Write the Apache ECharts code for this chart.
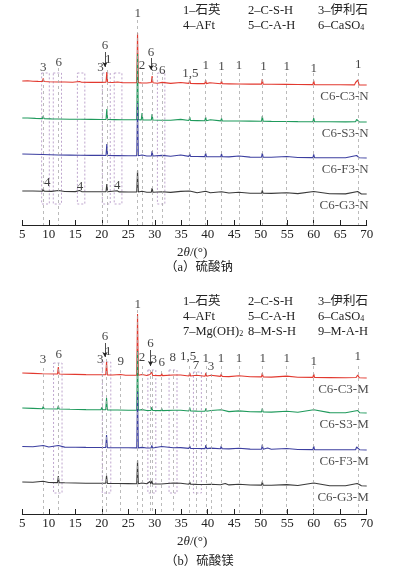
<!DOCTYPE html>
<html><head><meta charset="utf-8">
<script src="https://cdn.jsdelivr.net/npm/echarts@6/dist/echarts.min.js"></script>
<style>html,body{margin:0;padding:0;background:#fff}#c{width:396px;height:572px}</style>
</head><body><div id="c"></div>
<script>
// ---------- DATA (2θ in degrees, relative intensity) ----------
const xTicks = [5,10,15,20,25,30,35,40,45,50,55,60,65,70];
const namesA = ['C6-C3-N','C6-S3-N','C6-F3-N','C6-G3-N'];
const namesB = ['C6-C3-M','C6-S3-M','C6-F3-M','C6-G3-M'];

const c3n = [[5,4],[6,4.2],[7,3.8],[8,3.6],[8.8,3.5],[8.95,6.5],[9.1,3.5],[10,3.2],[11.7,3],[11.85,5],[12,3],[13,3],[14.5,2.8],[15.8,3.5],[16.2,2.8],[18,2.6],[19.9,2.6],[20.0,4],[20.15,2.7],[20.8,2.8],[20.95,13],[21.1,2.8],[22,2.5],[23,3],[24,2.3],[25.5,2.2],[26.6,2.3],[26.75,52],[26.9,2.2],[27.45,2.1],[27.6,4],[27.75,2],[28.5,2],[29.35,2.5],[29.5,9],[29.65,2.2],[30.5,1.8],[31.4,2.6],[31.6,1.8],[33,1.6],[34.9,2.5],[35.2,1.6],[36.45,1.6],[36.6,4.5],[36.75,1.5],[38,1.4],[39.45,1.4],[39.6,5],[39.75,1.4],[40.4,2.3],[40.6,1.3],[42.45,1.2],[42.6,4],[42.75,1.2],[44,1.1],[45.8,1],[45.9,2.5],[46.05,1],[48,0.9],[50.15,0.9],[50.3,6],[50.45,0.9],[52,0.7],[54.8,0.6],[54.9,2],[55.05,0.6],[57,0.5],[59.85,0.4],[60.0,4.5],[60.15,0.4],[63,0.3],[65,0.2],[67.7,0.1],[67.9,2.5],[68.1,0.5],[68.35,5],[68.55,0.1],[70,0]];
const s3n = [[5,4],[6,4],[7.5,3.6],[8.8,3.4],[8.95,6],[9.1,3.3],[10.5,3.1],[11.7,3],[11.85,4.5],[12,3],[14,2.8],[16,2.7],[18,2.6],[19.9,2.5],[20.0,3.5],[20.1,2.5],[20.8,2.5],[20.95,13],[21.1,2.5],[22.5,2.4],[24,2.3],[25.5,2.2],[26.6,2.2],[26.75,68],[26.9,2.2],[27.45,2.1],[27.6,9],[27.75,2.1],[28.5,2],[29.35,2],[29.5,8],[29.65,2],[31.3,1.8],[31.4,3],[31.5,1.8],[33,1.7],[34.9,2.6],[35.2,1.6],[36.45,1.5],[36.6,5],[36.75,1.5],[38,1.4],[39.45,1.3],[39.6,5],[39.75,1.3],[40.5,2.2],[40.7,1.2],[42.45,1.1],[42.6,3.5],[42.75,1.1],[44,1],[45.8,1],[45.9,2],[46.05,1],[48,0.9],[50.15,0.8],[50.3,6],[50.45,0.8],[52,0.6],[54.8,0.5],[54.9,1.5],[55.05,0.5],[57,0.4],[59.85,0.3],[60.0,4],[60.15,0.3],[63,0.2],[66,0.1],[67.9,0.2],[68.1,2.5],[68.25,1],[68.4,3],[68.6,0.1],[70,0]];
const f3n = [[5,4],[7,3.8],[8.8,3.5],[8.95,5],[9.1,3.4],[11.7,3],[11.85,4],[12,3],[14,2.9],[16,2.8],[18,2.6],[19.9,2.6],[20.0,3.5],[20.1,2.5],[20.8,2.5],[20.95,14],[21.1,2.5],[23,2.4],[25,2.2],[26.6,2.2],[26.75,55],[26.9,2.2],[27.6,3],[28.5,2],[29.35,2],[29.5,7],[29.65,2],[31.4,2.6],[33,1.8],[34.9,3],[35.2,1.7],[36.45,1.6],[36.6,4],[36.75,1.6],[38,1.5],[39.45,1.4],[39.6,5],[39.75,1.4],[40.5,1.3],[42.45,1.2],[42.6,4],[42.75,1.2],[44,1.1],[45.9,2],[48,0.9],[50.15,0.8],[50.3,5],[50.45,0.8],[52,0.7],[54.9,1.5],[57,0.5],[59.85,0.4],[60.0,3.5],[60.15,0.4],[63,0.3],[66,0.2],[68.1,2.5],[68.25,1.2],[68.4,3.5],[68.6,0.2],[70,0]];
const g3n = [[5,3],[7,3],[8.8,2.8],[8.95,5],[9.1,2.8],[10.5,2.6],[11.85,3.5],[13,2.5],[15,2.4],[15.8,3.5],[16.2,2.4],[18,2.3],[19.9,2.2],[20.0,3.5],[20.1,2.2],[20.8,2.2],[20.95,10],[21.1,2.2],[22.9,3.2],[23.3,2.1],[25,2],[26.6,2],[26.75,24],[26.9,2],[27.6,2.8],[28.5,1.8],[29.35,1.8],[29.5,6],[29.65,1.8],[31.4,2.2],[33,1.6],[34.9,2.6],[35.2,1.5],[36.6,3],[38,1.3],[39.6,2.8],[40.5,1.2],[42.6,2.3],[44,1],[45.9,1.8],[48,0.8],[50.15,0.7],[50.3,3.5],[50.45,0.7],[52,0.6],[54.9,1.3],[57,0.4],[60.0,2.5],[63,0.2],[66,0.1],[68.3,2.5],[68.6,1.5],[69,0],[70,0]];

const c3m = [[5,5],[7,4.6],[8.8,4.3],[8.95,6],[9.1,4.2],[11.65,4],[11.8,11],[11.95,4],[13,3.8],[15,3.6],[17,3.4],[19.85,3.2],[20.0,5],[20.15,3.2],[20.75,3.2],[20.9,16],[21.05,3.1],[22,3],[23.55,3.5],[24.5,2.8],[26.6,2.7],[26.75,64],[26.9,2.7],[27.6,3.5],[28.5,2.5],[29.1,3.5],[29.25,2.6],[29.45,6],[29.6,2.5],[31.2,2.4],[31.3,4.5],[31.45,2.4],[33.5,3],[34.9,3],[35.2,2.1],[36.45,2],[36.6,5],[36.75,2],[37.9,2.8],[39.5,1.8],[39.65,5],[39.8,1.8],[40.6,2.8],[42.4,1.6],[42.55,4],[42.7,1.6],[44,1.4],[45.9,2.3],[48,1.2],[50.15,1.1],[50.3,5],[50.45,1.1],[52,0.9],[54.9,1.9],[57,0.7],[59.85,0.6],[60.0,4],[60.15,0.6],[63,0.4],[66,0.2],[68.0,0.5],[68.3,3],[68.6,0.2],[70,0]];
const s3m = [[5,5],[7,4.6],[8.8,4.3],[8.95,6.5],[9.1,4.2],[11.65,4],[11.8,7],[11.95,4],[14,3.7],[17,3.4],[19.85,3.2],[20.0,5.5],[20.15,3.2],[20.75,3.2],[20.9,15],[21.05,3.1],[23,3],[25,2.8],[26.6,2.7],[26.75,62],[26.9,2.7],[27.6,3.4],[28.5,2.5],[29.3,2.5],[29.45,6],[29.6,2.5],[31.2,2.4],[31.3,4.5],[31.45,2.4],[33.5,2.8],[34.9,2.8],[35.2,2.1],[36.45,2],[36.6,5.5],[36.75,2],[38,1.9],[39.5,1.8],[39.65,4.5],[39.8,1.8],[40.6,2.5],[42.55,3.3],[44,1.4],[45.9,2.1],[48,1.2],[50.15,1.1],[50.3,4.5],[50.45,1.1],[52,0.9],[54.9,1.7],[57,0.7],[60.0,3.2],[63,0.4],[66,0.2],[68.3,2.5],[68.7,0.2],[70,0]];
const f3m = [[5,3.5],[7,3.3],[8.95,4.5],[10,3],[11.8,4.5],[13,2.9],[15,2.8],[17,2.6],[19.85,2.5],[20.0,4.5],[20.15,2.5],[20.75,2.5],[20.9,15],[21.05,2.4],[23,2.3],[25,2.2],[26.6,2.1],[26.75,58],[26.9,2.1],[27.6,2.6],[28.5,2],[29.3,2],[29.45,4.5],[29.6,2],[31.3,3.5],[33.5,2.2],[34.9,2.4],[35.2,1.7],[36.45,1.6],[36.6,4],[36.75,1.6],[38,1.5],[39.5,1.4],[39.65,5],[39.8,1.4],[40.6,1.9],[42.4,1.2],[42.55,4],[42.7,1.2],[44,1.1],[45.9,1.8],[48,0.9],[50.15,0.8],[50.3,5.5],[50.45,0.8],[51.3,2],[52,0.7],[54.9,1.5],[57,0.5],[59.85,0.4],[60.0,4],[60.15,0.4],[63,0.3],[66,0.2],[67.9,0.3],[68.1,3],[68.3,1.5],[68.45,3.5],[68.7,0.2],[70,0]];
const g3m = [[5,4],[7,3.8],[8.95,4.8],[10,3.5],[11.65,3.4],[11.8,10],[11.95,3.4],[13,3.2],[15,3],[17,2.8],[19.85,2.7],[20.0,4.5],[20.15,2.7],[20.75,2.7],[20.9,10.5],[21.05,2.6],[23,2.5],[25,2.4],[26.6,2.3],[26.75,26],[26.9,2.3],[27.6,3],[28.5,2.2],[29.1,4.5],[29.25,2.2],[29.45,5],[29.6,2.1],[31.2,2],[31.3,4],[31.45,2],[33.5,3],[34.9,2.8],[35.2,1.8],[36.45,1.7],[36.6,4],[36.75,1.7],[38,1.6],[39.5,1.5],[39.65,3.5],[39.8,1.5],[40.6,1.8],[42.4,1.3],[42.55,3.2],[42.7,1.3],[43.3,2.5],[44,1.1],[45.9,1.7],[48,1],[50.15,0.9],[50.3,4.5],[50.45,0.9],[52,0.7],[54.9,1.4],[57,0.5],[60.0,3],[63,0.3],[66,0.2],[68.2,2.5],[68.6,1.5],[69,0.2],[70,0]];

// peak annotation labels [2θ, height, text]
const peakLabelsA = [[8.95,157,'3'],[11.9,162,'6'],[19.75,157,'3'],[21.2,165,'1'],[20.6,179,'6'],[26.8,211,'1'],[27.6,159,'2'],[29.3,172,'6'],[29.95,157,'3'],[31.4,154,'6'],[36.7,151,'1,5'],[39.6,159,'1'],[42.6,158,'1'],[45.9,159,'1'],[50.5,158,'1'],[54.9,158,'1'],[60.0,156,'1'],[68.4,160,'1'],[9.7,42,'4'],[15.9,38,'4'],[22.9,39,'4']];
const peakLabelsB = [[8.9,154,'3'],[11.9,159,'6'],[19.7,154,'3'],[21.2,162,'1'],[20.6,177,'6'],[23.6,152,'9'],[26.8,209,'1'],[27.6,156,'2'],[29.2,170,'6'],[29.8,154,'3'],[31.3,151,'6'],[33.4,156,'8'],[36.3,157,'1,5'],[37.8,148,'7'],[39.6,155,'1'],[40.6,147,'3'],[42.5,155,'1'],[45.9,155,'1'],[50.4,155,'1'],[54.9,155,'1'],[60.0,152,'1'],[68.3,157,'1']];
// reference peak positions [2θ, top]
const refLinesA = [[8.95,152],[11.85,157],[20.0,152],[20.95,155],[26.75,205],[27.6,153],[29.5,153],[31.4,148],[36.6,145],[39.6,152],[42.6,152],[45.9,152],[50.3,152],[54.9,152],[60.0,152],[68.35,152]];
const refLinesB = [[8.95,146],[11.8,151],[20.0,146],[20.9,155],[23.55,144],[26.75,204],[27.6,148],[29.2,144],[29.6,144],[31.3,143],[33.5,144],[36.6,148],[37.9,142],[39.65,148],[40.6,140],[42.5,148],[45.9,148],[50.3,148],[54.9,148],[60.0,148],[68.35,148]];
// boxed regions [from, to, top]
const boxesA = [[8.65,10.1,152],[10.85,12.4,152],[15.4,16.8,152],[20.1,21.6,152],[22.35,23.8,152],[30.5,31.9,152]];
const boxesB = [[10.9,12.5,151],[20.1,21.7,152],[28.7,30.2,144],[32.7,34.2,144],[37.3,38.8,142]];
// arrows [2θ, from, to]
const arrowsA = [[20.6,173,158],[29.3,167,155]];
const arrowsB = [[20.6,171,157],[29.2,164,148]];

// ---------- CHART ----------
const SERIF = 'Liberation Serif, Times New Roman, serif';
const CJK = 'Liberation Serif, Noto Sans CJK SC, serif';
const colors = ['#e2392f','#1f9a5c','#3c3fa0','#3a3a3a'];
const offsetsA = [140,103,67,31];
const offsetsB = [136,101,64,28];
const boxBottom = 21;

function trace(data, off, color, gi){
  return {type:'line', xAxisIndex:gi, yAxisIndex:gi, symbol:'none', silent:true, animation:false,
    data:data.map(p=>[p[0], p[1]+off]), lineStyle:{color:color, width:1.1}, z:3};
}
function labelSeries(labels, lines, boxes, gi){
  return {type:'scatter', xAxisIndex:gi, yAxisIndex:gi, symbolSize:0, clip:false, silent:true, animation:false,
    data:labels.map(l=>({value:[l[0],l[1]], name:l[2]})),
    label:{show:true, position:[0,0], align:'center', verticalAlign:'middle', formatter:p=>p.name,
      fontFamily:SERIF, fontSize:13, color:'#111'},
    markLine:{silent:true, symbol:['none','none'], animation:false, label:{show:false},
      lineStyle:{type:[3,3], color:'#aaaaaa', width:0.8},
      data:lines.map(l=>[{coord:[l[0],l[1]]},{coord:[l[0],0]}])},
    markArea:{silent:true, animation:false, label:{show:false},
      itemStyle:{color:'rgba(0,0,0,0)', borderColor:'#b89cc8', borderWidth:0.9, borderType:[2,2]},
      data:boxes.map(b=>[{coord:[b[0],b[2]]},{coord:[b[1],boxBottom]}])}
  };
}
function nameSeries(names, offs, arrows, gi){
  return {type:'scatter', xAxisIndex:gi, yAxisIndex:gi, symbolSize:0, clip:false, silent:true, animation:false,
    data:names.map((n,i)=>({value:[70, offs[i]-12], name:n})),
    label:{show:true, position:[2,0], align:'right', verticalAlign:'middle', formatter:p=>p.name,
      fontFamily:SERIF, fontSize:13, color:'#222'},
    markLine:{silent:true, symbol:['none','arrow'], symbolSize:[4,5], animation:false, label:{show:false},
      lineStyle:{type:'solid', color:'#222', width:0.8},
      data:arrows.map(a=>[{coord:[a[0],a[1]]},{coord:[a[0],a[2]]}])}
  };
}
function xAx(gi){
  return {type:'value', gridIndex:gi, min:5, max:70, interval:5,
    axisLine:{lineStyle:{color:'#222', width:1}},
    axisTick:{inside:true, length:5, lineStyle:{color:'#222'}},
    axisLabel:{margin:3, fontFamily:SERIF, fontSize:13, color:'#222',
      formatter:v=>xTicks.includes(v)?String(v):''},
    splitLine:{show:false}};
}
function yAx(gi){ return {type:'value', gridIndex:gi, min:0, max:225, show:false}; }

function legendTexts(rows, y0){
  const xs=[183,248,318]; const out=[];
  rows.forEach((r,ri)=>r.forEach((t,ci)=>out.push({type:'text', left:xs[ci], top:y0+ri*15-7,
    style:{text:t, font:'12.5px '+CJK, fill:'#222',
      rich:{s:{fontSize:8, fontFamily:SERIF, verticalAlign:'bottom', padding:[6,0,0,0], fill:'#222'}}}})));
  return out;
}
const legendRowsA = [['1–石英','2–C-S-H','3–伊利石'],['4–AFt','5–C-A-H','6–CaSO{s|4}']];
const legendRowsB = [['1–石英','2–C-S-H','3–伊利石'],['4–AFt','5–C-A-H','6–CaSO{s|4}'],['7–Mg(OH){s|2}','8–M-S-H','9–M-A-H']];

function axisTitle(y){
  return {type:'text', left:177, top:y-7, style:{text:'2{i|θ}/(°)', font:'13px '+SERIF, fill:'#222',
    rich:{i:{fontStyle:'italic', fontFamily:SERIF, fontSize:13, fill:'#222'}}}};
}
function caption(t,y){
  return {type:'text', left:165, top:y-7, style:{text:t, font:'12.5px '+CJK, fill:'#222'}};
}

const chart = echarts.init(document.getElementById('c'), null, {renderer:'canvas'});
chart.setOption({
  animation:false, backgroundColor:'#fff',
  grid:[{left:22.3, right:29.3, top:0, height:225},{left:22.3, right:29.3, top:289, height:225}],
  xAxis:[xAx(0), xAx(1)], yAxis:[yAx(0), yAx(1)],
  series:[
    labelSeries(peakLabelsA, refLinesA, boxesA, 0),
    labelSeries(peakLabelsB, refLinesB, boxesB, 1),
    trace(c3n, offsetsA[0], colors[0], 0), trace(s3n, offsetsA[1], colors[1], 0),
    trace(f3n, offsetsA[2], colors[2], 0), trace(g3n, offsetsA[3], colors[3], 0),
    trace(c3m, offsetsB[0], colors[0], 1), trace(s3m, offsetsB[1], colors[1], 1),
    trace(f3m, offsetsB[2], colors[2], 1), trace(g3m, offsetsB[3], colors[3], 1),
    nameSeries(namesA, offsetsA, arrowsA, 0),
    nameSeries(namesB, offsetsB, arrowsB, 1)
  ],
  graphic:[].concat(legendTexts(legendRowsA, 11), legendTexts(legendRowsB, 302),
    [axisTitle(253), caption('（a）硫酸钠',268), axisTitle(542), caption('（b）硫酸镁',562)])
});
</script></body></html>
